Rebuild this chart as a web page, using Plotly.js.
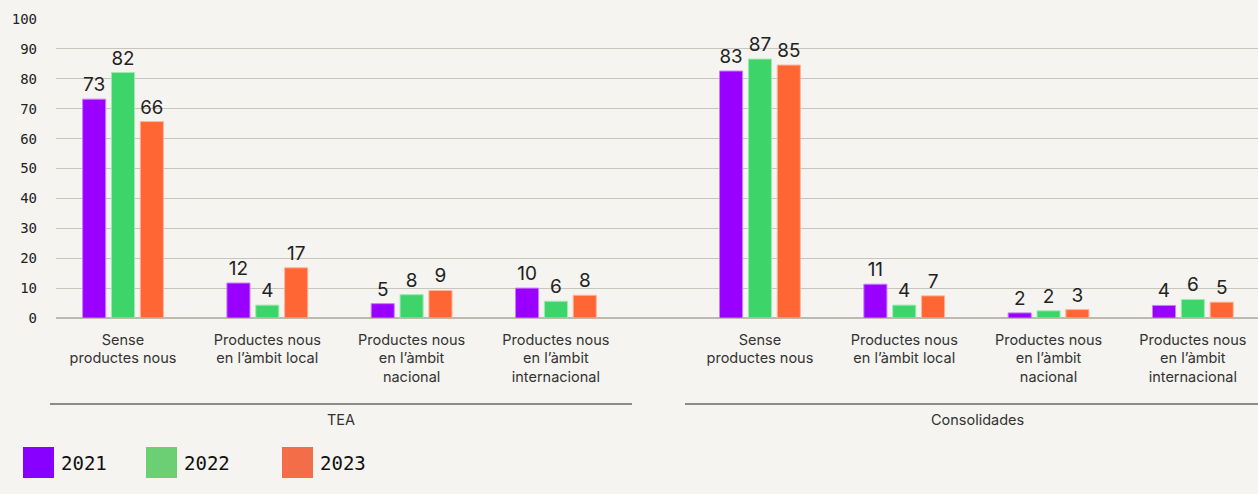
<!DOCTYPE html>
<html>
<head>
<meta charset="utf-8">
<script src="https://cdn.plot.ly/plotly-3.0.1.min.js"></script>
<style>
html,body{margin:0;padding:0;background:#f5f4f0;}
#chart{width:1258px;height:494px;}
</style>
</head>
<body>
<div id="chart"></div>
<script>
// ---- data ----
const categories = [
  "Sense<br>productes nous",
  "Productes nous<br>en l’àmbit local",
  "Productes nous<br>en l’àmbit<br>nacional",
  "Productes nous<br>en l’àmbit<br>internacional",
  "Sense<br>productes nous",
  "Productes nous<br>en l’àmbit local",
  "Productes nous<br>en l’àmbit<br>nacional",
  "Productes nous<br>en l’àmbit<br>internacional"
];
const groups = ["TEA", "Consolidades"];
const seriesNames = ["2021", "2022", "2023"];
const values2021 = [73.2, 11.7, 4.8, 10.0, 82.6, 11.3, 1.7, 4.2];
const values2022 = [82.1, 4.3, 7.8, 5.6, 86.6, 4.3, 2.4, 6.2];
const values2023 = [65.7, 16.8, 9.2, 7.6, 84.6, 7.4, 2.8, 5.3];

// ---- styling ----
const barColors = ["#9900ff", "#3dd46a", "#ff6633"];
const barEdge = ["#c680ff", "#9fe9b4", "#ffb399"];
const legendColors = ["#8800ff", "#6ccf74", "#f26d48"];
const groupGap = 0.414;
const xpos = categories.map((c, i) => i + (i >= 4 ? groupGap : 0));

const allValues = [values2021, values2022, values2023];
const traces = allValues.map((vals, k) => ({
  type: "bar",
  name: seriesNames[k],
  x: xpos,
  y: vals,
  marker: {color: barColors[k], line: {color: barEdge[k], width: 1}},
  texttemplate: "%{y:.0f}",
  textposition: "outside",
  cliponaxis: false,
  textfont: {family: "Inter, Roboto, sans-serif", size: 19, color: "#222"},
  hoverinfo: "skip",
  showlegend: false
}));

// pixel helpers (plot area: x 56..1258, y 19..318)
const PL = 56, PR = 1258, PT = 19, PB = 318;
const px = v => (v - PL) / (PR - PL);
const py = v => (PB - v) / (PB - PT);

const shapes = [];
const annotations = [];
// group divider lines and labels
const groupSpans = [[50, 632], [685, 1258]];
const groupLabelX = [341, 977];
groups.forEach((g, i) => {
  shapes.push({type: "line", xref: "paper", yref: "paper",
    x0: px(groupSpans[i][0]), x1: px(groupSpans[i][1]), y0: py(404), y1: py(404),
    line: {color: "#222", width: 1}});
  annotations.push({xref: "paper", yref: "paper", x: px(groupLabelX[i]), y: py(419),
    text: g, showarrow: false, xanchor: "center", yanchor: "middle",
    font: {family: "Inter, Roboto, sans-serif", size: 14.5, color: "#333"}});
});
// legend
const legendSwatchX = [23, 146, 282];
seriesNames.forEach((n, k) => {
  const x0 = legendSwatchX[k];
  shapes.push({type: "rect", xref: "paper", yref: "paper",
    x0: px(x0), x1: px(x0 + 31), y0: py(478), y1: py(447),
    fillcolor: legendColors[k], line: {width: 0}});
  annotations.push({xref: "paper", yref: "paper", x: px(x0 + 36), y: py(463),
    text: n, showarrow: false, xanchor: "left", yanchor: "middle",
    font: {family: "DejaVu Sans Mono, monospace", size: 19, color: "#111"}});
});

const layout = {
  width: 1258, height: 494,
  paper_bgcolor: "#f5f4f0",
  plot_bgcolor: "#f5f4f0",
  margin: {l: PL, r: 1258 - PR, t: PT, b: 494 - PB},
  barmode: "group",
  bargap: 0.4,
  bargroupgap: 0.2,
  showlegend: false,
  xaxis: {
    range: [(PL - 123) / 144.3, (PR - 123) / 144.3],
    tickvals: xpos,
    ticktext: categories,
    tickfont: {family: "Inter, Roboto, sans-serif", size: 14.5, color: "#333"},
    showgrid: false, zeroline: false, showline: false,
    ticks: "", ticklabelstandoff: 11,
    fixedrange: true
  },
  yaxis: {
    range: [0, 100],
    tickvals: [0, 10, 20, 30, 40, 50, 60, 70, 80, 90, 100],
    tickfont: {family: "DejaVu Sans Mono, monospace", size: 14, color: "#222"},
    showgrid: true, gridcolor: "#c8c5bd", gridwidth: 1,
    zeroline: true, zerolinecolor: "#bcb9b1", zerolinewidth: 1.5,
    showline: false, ticks: "", ticklabelstandoff: 18,
    fixedrange: true
  },
  shapes: shapes,
  annotations: annotations
};

Plotly.newPlot("chart", traces, layout, {displayModeBar: false, staticPlot: true});
</script>
</body>
</html>
